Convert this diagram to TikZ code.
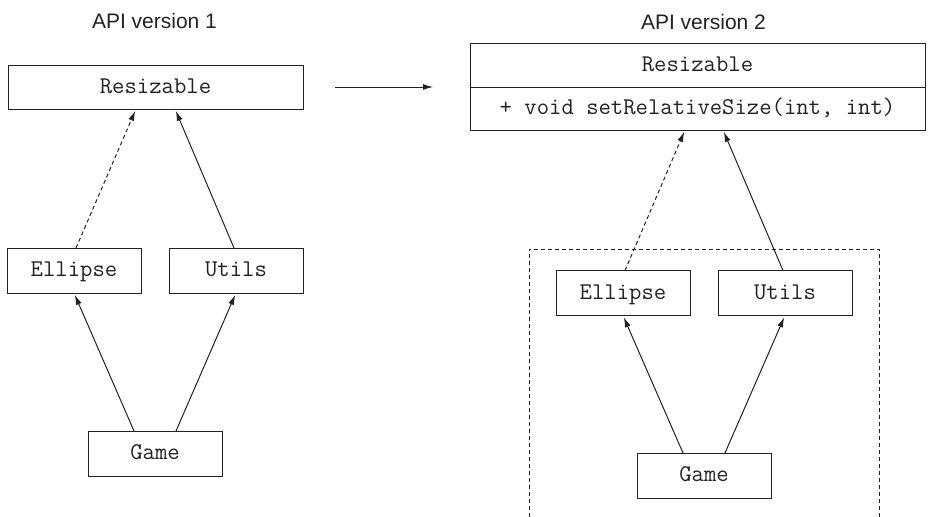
\documentclass[tikz,border=0pt]{standalone}
\usepackage{fontspec}
\setmainfont{Liberation Sans}
\usepackage{tikz}
\usetikzlibrary{arrows.meta,positioning}
\definecolor{ink}{HTML}{222222}

\begin{document}
\begin{tikzpicture}[x=1pt,y=-1pt,
    classbox/.style={draw=ink,text=ink,line width=1pt,inner sep=0pt,outer sep=0pt,
      minimum width=134pt,minimum height=45pt,text height=15pt,text depth=3pt,
      font=\fontsize{24}{28}\selectfont\ttfamily},
    title/.style={text=ink,font=\fontsize{21}{25}\selectfont},
    uses/.style={draw=ink,line width=1pt,shorten >=2pt,-{Latex[length=10pt,width=6pt]}},
    impl/.style={uses,dash pattern=on 4pt off 3pt}]
  \useasboundingbox (0,0) rectangle (930,517);

  % version 1
  \node[title] (titleOne) at (154.5,21) {API version 1};
  \node[classbox,minimum width=295pt,minimum height=44pt] (resizeOne) at (155.5,87) {Resizable};
  \node[classbox] (ellipseOne) at (74,270.5) {Ellipse};
  \node[classbox] (utilsOne) at (236,270.5) {Utils};
  \node[classbox] (gameOne) at (155,453.5) {Game};

  \draw[impl] ([xshift=2pt]ellipseOne.north) -- ([xshift=-19.5pt]resizeOne.south);
  \draw[uses] ([xshift=-2pt]utilsOne.north) -- ([xshift=19.5pt]resizeOne.south);
  \draw[uses] ([xshift=-21pt]gameOne.north) -- (ellipseOne.south);
  \draw[uses] ([xshift=21pt]gameOne.north) -- (utilsOne.south);

  % version 2
  \node[title] (titleTwo) at (703.5,22) {API version 2};
  \node[classbox,minimum width=455pt,minimum height=44pt] (resizeTwo) at (697.5,65) {Resizable};
  \node[classbox,minimum width=455pt,minimum height=43pt,below=0pt of resizeTwo] (methods)
    {+ void setRelativeSize(int, int)};
  \node[classbox] (ellipseTwo) at (623,293) {Ellipse};
  \node[classbox] (utilsTwo) at (785,293) {Utils};
  \node[classbox] (gameTwo) at (704,475.5) {Game};

  \draw[draw=ink,line width=1pt,dash pattern=on 4pt off 3pt]
    (529,517) -- (529,249) -- (879,249) -- (879,517);

  \draw[impl] ([xshift=2pt]ellipseTwo.north) -- ([xshift=-12.5pt]methods.south);
  \draw[uses] ([xshift=-2pt]utilsTwo.north) -- ([xshift=25.5pt]methods.south);
  \draw[uses] ([xshift=-21pt]gameTwo.north) -- (ellipseTwo.south);
  \draw[uses] ([xshift=21pt]gameTwo.north) -- (utilsTwo.south);

  % evolution
  \coordinate (evolve) at (resizeOne.east -| resizeTwo.west);
  \draw[uses,shorten >=0pt] ([xshift=32pt]resizeOne.east) -- ([xshift=-37pt]evolve);
\end{tikzpicture}
\end{document}
